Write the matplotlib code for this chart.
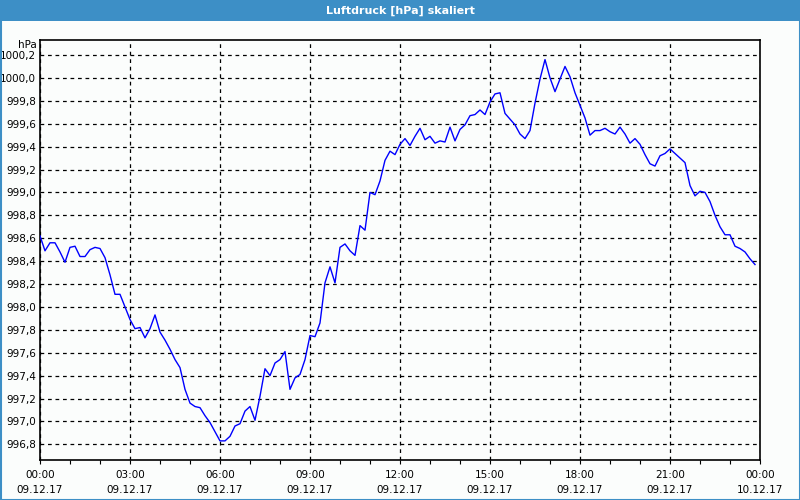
import numpy as np
import matplotlib
matplotlib.use("Agg")
import matplotlib.pyplot as plt
from matplotlib.patches import Rectangle
from matplotlib.ticker import FixedLocator, MultipleLocator, FuncFormatter

# Luftdruck alle 10 Minuten, 09.12.17 00:00 bis 23:50
pressure = [
    998.62, 998.49, 998.56, 998.56, 998.48, 998.39, 998.52, 998.53, 998.44, 998.44,
    998.50, 998.52, 998.51, 998.43, 998.28, 998.11, 998.11, 998.00, 997.89, 997.81,
    997.82, 997.73, 997.81, 997.93, 997.78, 997.71, 997.63, 997.54, 997.47, 997.28,
    997.16, 997.13, 997.12, 997.05, 996.99, 996.91, 996.83, 996.83, 996.87, 996.96,
    996.98, 997.09, 997.13, 997.01, 997.22, 997.46, 997.40, 997.51, 997.54, 997.61,
    997.28, 997.38, 997.41, 997.54, 997.75, 997.74, 997.86, 998.21, 998.35, 998.21,
    998.52, 998.55, 998.49, 998.45, 998.71, 998.67, 999.00, 998.98, 999.10, 999.28,
    999.36, 999.33, 999.42, 999.47, 999.41, 999.49, 999.56, 999.46, 999.49, 999.43,
    999.45, 999.44, 999.57, 999.45, 999.55, 999.59, 999.67, 999.68, 999.72, 999.68,
    999.79, 999.86, 999.87, 999.69, 999.64, 999.59, 999.51, 999.47, 999.54, 999.78,
    999.99, 1000.16, 1000.00, 999.88, 999.99, 1000.10, 1000.01, 999.87, 999.76, 999.65,
    999.50, 999.54, 999.54, 999.56, 999.53, 999.51, 999.57, 999.51, 999.43, 999.47,
    999.42, 999.33, 999.25, 999.23, 999.32, 999.34, 999.38, 999.34, 999.30, 999.26,
    999.06, 998.97, 999.01, 999.00, 998.92, 998.80, 998.70, 998.63, 998.63, 998.53,
    998.51, 998.48, 998.42, 998.37,
]
hours = np.arange(len(pressure)) / 6.0

tick_hours = [0, 3, 6, 9, 12, 15, 18, 21, 24]
tick_labels = ["00:00\n09.12.17", "03:00\n09.12.17", "06:00\n09.12.17",
               "09:00\n09.12.17", "12:00\n09.12.17", "15:00\n09.12.17",
               "18:00\n09.12.17", "21:00\n09.12.17", "00:00\n10.12.17"]
y_ticks = [996.8, 997.0, 997.2, 997.4, 997.6, 997.8, 998.0, 998.2,
           998.4, 998.6, 998.8, 999.0, 999.2, 999.4, 999.6, 999.8, 1000.0, 1000.2]

title = "Luftdruck [hPa] skaliert"
unit = "hPa"

BG = "#fbfdfc"
BLUE_BAR = "#3d8fc6"

fig = plt.figure(figsize=(8, 5), dpi=100, facecolor=BG)

# Titelleiste und Rahmen
fig.patches.append(Rectangle((0, 1 - 21 / 500), 1, 21 / 500, transform=fig.transFigure,
                             facecolor=BLUE_BAR, edgecolor="none", zorder=0))
fig.patches.append(Rectangle((0.5 / 800, 0.5 / 500), 1 - 1 / 800, 1 - 1 / 500,
                             transform=fig.transFigure, facecolor="none",
                             edgecolor=BLUE_BAR, linewidth=1.5, zorder=1))
fig.text(0.5, 1 - 10.5 / 500, title, color="white", fontsize=8, fontweight="bold",
         ha="center", va="center")

ax = fig.add_axes([40 / 800, 40 / 500, 720 / 800, 420 / 500])
ax.set_facecolor(BG)
ax.plot(hours, pressure, color="#0000ff", linewidth=1.0, zorder=3)

ax.set_xlim(0, 24)
ax.set_ylim(996.663, 1000.331)

ax.xaxis.set_major_locator(FixedLocator(tick_hours))
ax.set_xticklabels(tick_labels, fontsize=7.5, linespacing=1.65)
ax.xaxis.set_minor_locator(MultipleLocator(1))
ax.tick_params(axis="x", which="both", direction="out", length=3, width=0.8,
               pad=4, colors="black")

ax.yaxis.set_major_locator(FixedLocator(y_ticks))
ax.yaxis.set_major_formatter(FuncFormatter(lambda v, p: f"{v:.1f}".replace(".", ",")))
ax.tick_params(axis="y", length=0, pad=3, labelsize=7.5)

ax.grid(True, which="major", color="black", linestyle=(0, (3, 3)), linewidth=0.9)

for side in ax.spines.values():
    side.set_linewidth(1.2)
    side.set_color("black")

fig.text(37 / 800, 1 - 45 / 500, unit, fontsize=7.5, ha="right", va="center")

fig.savefig("out.png", dpi=100, facecolor=BG)
